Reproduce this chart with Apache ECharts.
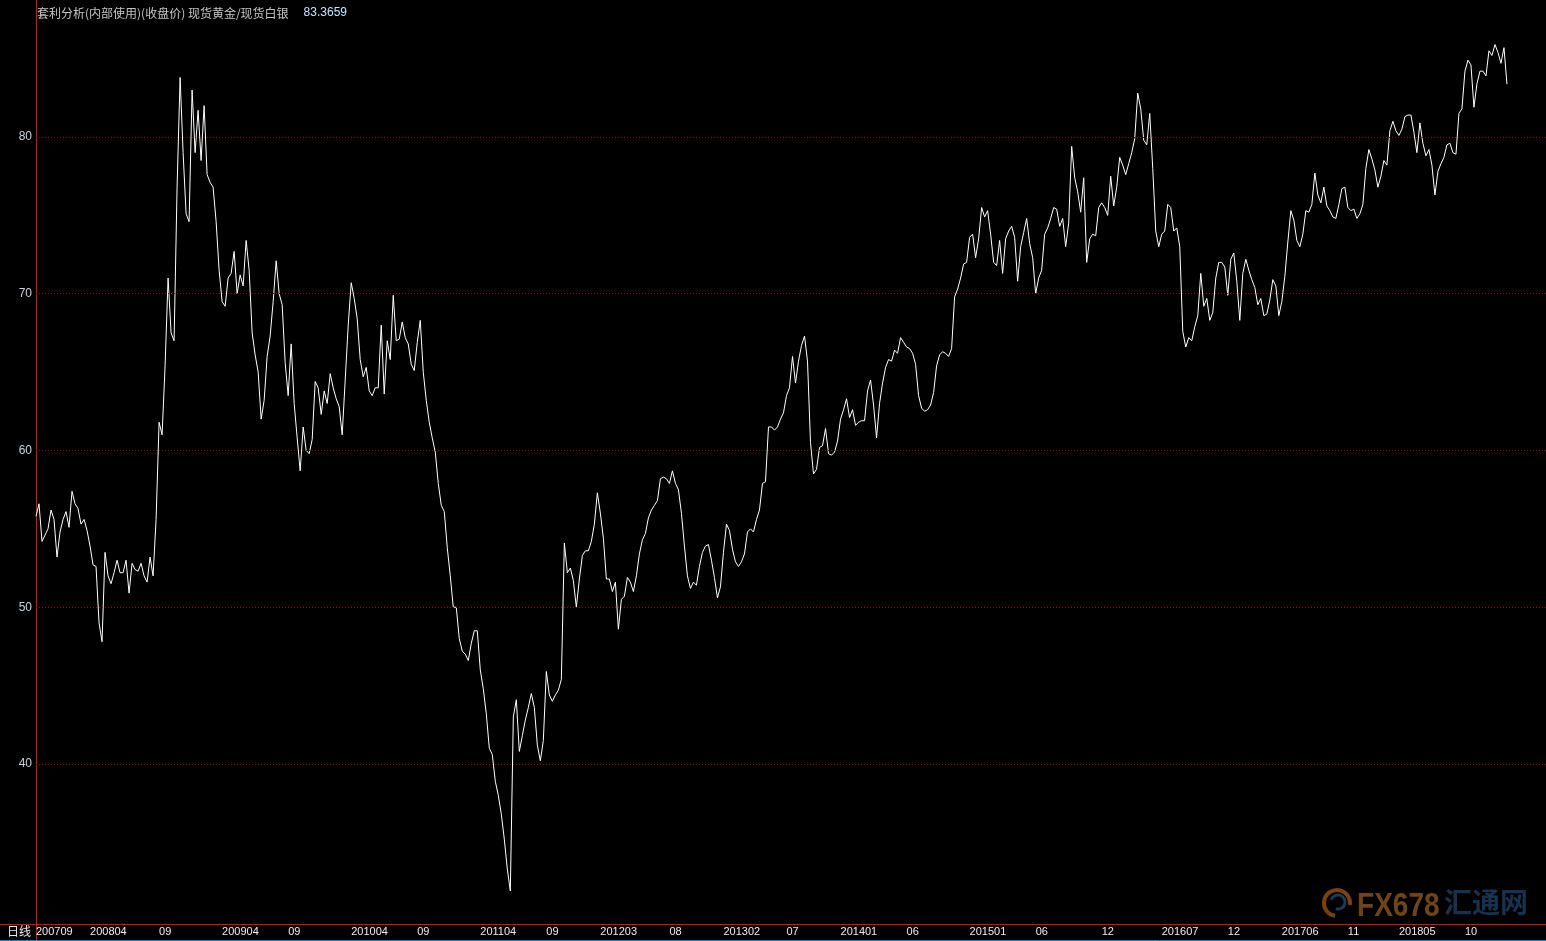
<!DOCTYPE html>
<html><head><meta charset="utf-8">
<script src="https://cdn.jsdelivr.net/npm/echarts@6/dist/echarts.min.js"></script>
<style>html,body{margin:0;padding:0;background:#000;overflow:hidden}#c{width:1546px;height:941px;}</style>
</head><body><div id="c"></div>
<script>
const titleText = '套利分析(内部使用)(收盘价) 现货黄金/现货白银';
const periodLabel = '日线';
const brandLatin = 'FX678';
const brandCjk = '汇通网';

// Gold / silver ratio, daily close (one value per ~6 trading days)
const ratioSeg2007 = [55.8,56.6,54.2,54.6,55.0,56.2,55.6,53.2,54.8,55.6,56.1,55.1,57.4,56.6,56.3,55.3,55.6,54.9,53.9,52.7,52.6,49.0,47.8,53.5,52.0,51.5,52.2,53.0,52.2,52.2,53.0,50.9,52.8,52.4,52.3,52.8,52.0,51.6,53.2,52.0,55.6];
const ratioSeg2008 = [61.8,61.0,65.4,71.0,67.5,67.0,76.8,83.8,79.0,75.1,74.6,83.0,79.0,81.7,78.5,82.0,77.6,77.1,76.8,74.6,71.5,69.5,69.2,71.0,71.3,72.7,70.0,71.2,70.5,73.4,71.5,67.5,66.1,65.0,62.0,63.2,66.0,67.3,69.5,72.1,70.0,69.3,65.6,63.5,66.8,63.0,60.8,58.7,61.5,60.0,59.8,60.7,64.4,64.0,62.3,63.8,63.0,64.9,64.0];
const ratioSeg2010 = [63.3,62.8,61.0,64.5,68.0,70.7,69.7,68.4,65.8,64.7,65.3,63.8,63.5,64.0,64.0,68.0,63.6,67.0,65.8,69.9,67.0,67.1,68.2,67.2,66.8,65.5,65.1,66.9,68.3,65.0,63.2,61.8,60.8,59.9,57.9,56.5,56.1,53.8,52.0,50.0,50.0,48.0,47.2,47.0,46.6,47.7,48.5,48.5,46.0,44.8,43.2,41.0,40.6,38.9,38.0,36.8,35.2,33.3,31.9,43.0,44.1,40.8,41.8,42.8,43.6,44.5,43.6,41.2,40.2,41.5,45.9,44.4,44.0,44.4,44.7,45.4,54.1,52.2,52.5,51.7,50.0,51.8,53.3,53.6,53.6,54.2,55.3,57.3,56.0,54.4,51.8,51.8,51.0,51.6,48.6,50.5,50.7,51.9];
const ratioSeg2012 = [51.6,51.0,52.0,53.4,54.3,54.7,55.7,56.2,56.5,56.8,58.2,58.3,58.2,57.9,58.7,57.9,57.5,56.0,53.9,52.0,51.2,51.6,51.4,52.6,53.5,53.9,54.0,53.0,51.9,50.6,51.3,53.5,55.3,54.9,53.7,52.9,52.6,52.9,53.4,54.8,55.0,54.8,55.6,56.2,57.9,58.0,61.5,61.5,61.3,61.5,62.0,62.4,63.5,64.0,66.0,64.3,65.7,66.7,67.3,65.7,60.5,58.5,58.8,60.2,60.3,61.4,59.8,59.7,59.9,60.6,62.0,62.6,63.3,62.1,62.6,61.6,61.8,61.9,61.9,63.8,64.5,62.9,60.8,63.0,64.3,65.3,65.8,65.7,66.4,66.2,67.2,66.9,66.6,66.5,66.2,65.5,63.5,62.7,62.5,62.6,62.9,63.7,65.4,66.1,66.3,66.2,66.0,66.5];
const ratioSeg2015 = [69.8,70.3,71.0,71.9,72.0,73.6,73.8,72.3,73.5,75.5,74.9,75.3,73.8,72.0,71.8,73.4,71.3,73.5,74.0,74.3,73.6,70.8,73.0,73.9,74.8,73.2,72.3,70.0,71.0,71.5,73.8,74.2,74.8,75.5,75.4,74.3,74.8,73.0,74.5,79.4,77.4,76.5,75.2,77.4,72.0,73.5,73.8,73.7,75.5,75.8,75.5,75.0,77.5,75.6,76.8,78.7,78.2,77.6,78.3,79.0,79.9,82.8,81.8,79.8,79.5,81.5,78.0,74.0,73.0,73.8,74.0,75.7,75.5,74.0,74.2,73.0,67.6,66.6,67.2,67.0,67.9,68.6,71.3,69.2,69.7,68.3,68.8,71.0,72.0,72.0,71.7,69.9,72.2,72.6,70.8,68.3,71.3,72.2,71.5];
const ratioSeg2017 = [70.9,70.4,69.3,69.7,68.6,68.7,69.6,70.9,70.5,68.6,69.5,71.1,73.3,75.3,74.7,73.4,73.0,73.8,75.3,75.2,75.7,77.7,76.3,75.8,76.8,75.6,75.3,74.9,74.8,75.7,76.7,76.8,75.5,75.3,75.4,74.8,75.1,75.7,78.0,79.2,78.6,77.9,76.8,77.5,78.5,78.2,80.4,81.0,80.4,80.1,80.5,81.3,81.4,81.4,80.3,79.0,80.9,79.6,78.8,79.2,78.2,76.3,77.8,78.3,78.7,79.5,79.6,79.0,78.9,81.5,81.8,84.2,84.9,84.6,81.9,83.4,84.2,84.2,83.9,85.5,85.2,85.9,85.4,84.7,85.7,83.3659];

const yGridValues = [40, 50, 60, 70, 80];
const yMin = 29.79;
const yMax = 88.74;
const xTickLabels = ['200709','200804','09','200904','09','201004','09','201104','09','201203','08','201302','07','201401','06','201501','06','12','201607','12','201706','11','201805','10'];
const xTickSlots = [0,18,41,62,84,105,127,148,170,188,211,229,250,268,290,311,333,355,375,397,415,437,454,476];
const slotCount = 504;

const ratio = [].concat(ratioSeg2007, ratioSeg2008, ratioSeg2010, ratioSeg2012, ratioSeg2015, ratioSeg2017);
const categories = Array.from({length: slotCount}, (_, i) => String(i));
const tickMap = {};
xTickSlots.forEach((s, k) => { tickMap[s] = xTickLabels[k]; });
const lastValue = ratio[ratio.length - 1];

const RED = '#e01010';
const chart = echarts.init(document.getElementById('c'), null, {renderer: 'canvas'});
chart.setOption({
  backgroundColor: '#000',
  animation: false,
  title: {
    left: 37, top: 4, padding: 0,
    text: '{a|' + titleText + '}   {b|' + lastValue.toFixed(4) + '}',
    textStyle: {
      rich: {
        a: {color: '#c4c4c4', fontSize: 12, fontWeight: 'normal', fontFamily: '"Noto Sans CJK SC", sans-serif'},
        b: {color: '#bfe4ff', fontSize: 12, fontWeight: 'normal', fontFamily: '"Liberation Sans", Arial, sans-serif'}
      }
    }
  },
  grid: {left: 36, right: 0, top: 0, bottom: 17},
  xAxis: {
    type: 'category', data: categories, boundaryGap: false,
    axisLine: {lineStyle: {color: RED, width: 1}},
    axisTick: {show: false},
    splitLine: {show: false},
    axisLabel: {
      interval: (i) => tickMap[i] !== undefined,
      formatter: (v, i) => tickMap[i] || '',
      color: '#ececec', fontSize: 11, fontFamily: '"Liberation Sans", Arial, sans-serif',
      align: 'left', margin: 2
    }
  },
  yAxis: {
    type: 'value', min: yMin, max: yMax, splitNumber: 6,
    axisLine: {show: true, lineStyle: {color: RED, width: 1}},
    axisTick: {show: false},
    splitLine: {show: false},
    axisLabel: {
      formatter: (v) => yGridValues.indexOf(v) >= 0 ? String(v) : '',
      color: '#c8d2dc', fontSize: 12, fontFamily: '"Liberation Sans", Arial, sans-serif',
      margin: 4, showMinLabel: false, showMaxLabel: false
    }
  },
  series: [{
    type: 'line', data: ratio, symbol: 'none', showSymbol: false,
    lineStyle: {color: '#ffffff', width: 1},
    markLine: {
      silent: true, symbol: 'none', label: {show: false}, animation: false,
      lineStyle: {color: '#7e1010', type: [1, 2], width: 1},
      data: yGridValues.map(v => ({yAxis: v}))
    },
    z: 3
  }],
  graphic: [
    {type: 'line', shape: {x1: 0, y1: 924.5, x2: 36, y2: 924.5}, style: {stroke: RED, lineWidth: 1}},
    {type: 'line', shape: {x1: 36.5, y1: 924, x2: 36.5, y2: 941}, style: {stroke: RED, lineWidth: 1}},
    {type: 'line', shape: {x1: 0, y1: 940.5, x2: 1546, y2: 940.5}, style: {stroke: '#2f7aa8', lineWidth: 1}},
    {type: 'text', left: 7, top: 925, style: {text: periodLabel, fill: '#ececec', font: '12px "Noto Sans CJK SC", sans-serif'}},
    {type: 'arc', z: 1, shape: {cx: 1337, cy: 903, r: 13, startAngle: Math.PI * 0.55, endAngle: Math.PI * 2.05}, style: {stroke: '#7a4212', lineWidth: 4, fill: null}},
    {type: 'arc', z: 1, shape: {cx: 1338, cy: 902, r: 7, startAngle: Math.PI * 1.1, endAngle: Math.PI * 2.6}, style: {stroke: '#1c3a5c', lineWidth: 3, fill: null}},
    {type: 'text', z: 1, x: 1357, y: 890, scaleX: 0.85, style: {text: brandLatin, fill: '#6e4418', font: 'bold 33px "Liberation Sans", Arial, sans-serif'}},
    {type: 'text', z: 1, x: 1444, y: 888, style: {text: brandCjk, fill: '#17324f', font: 'bold 28px "Noto Sans CJK SC", sans-serif'}}
  ]
});
</script>
</body></html>
